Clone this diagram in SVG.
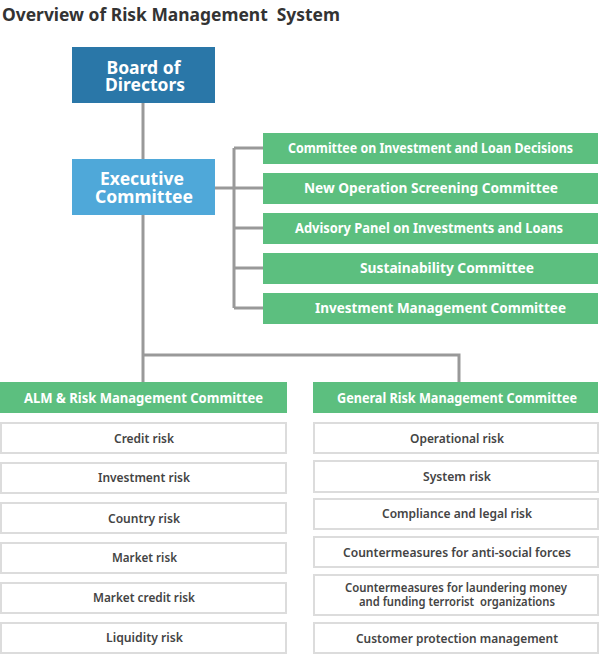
<svg xmlns="http://www.w3.org/2000/svg" width="600" height="654" viewBox="0 0 600 654">
<style>
text{font-family:"Noto Sans","Open Sans","DejaVu Sans",sans-serif;text-anchor:middle}
.title{font-size:18px;font-weight:700;fill:#333;text-anchor:start;white-space:pre}
.top{font-size:17px;font-weight:700;fill:#fff}
.hd{font-size:13.5px;font-weight:700;fill:#fff}
.it{font-size:12.5px;font-weight:600;fill:#444}
.pre{white-space:pre}
.bd{fill:#2a77a8}
.ex{fill:#4fa8d9}
.gr{fill:#5cbf7f}
.bx{fill:#fff;stroke:#dcdcdc;stroke-width:2}
.ln{fill:none;stroke:#999;stroke-width:3}
</style>
<text class="title" x="2" y="21" textLength="338" lengthAdjust="spacingAndGlyphs">Overview of Risk Management  System</text>
<g id="connectors">
<path class="ln" d="M143 102V159M143 215V382M143 355H459V382M215 188H234M234 148V308M234 148H263M234 188H263M234 228H263M234 268H263M234 308H263"/>
</g>
<g id="board"><rect class="bd" x="72" y="47" width="143" height="56"/>
<text class="top" x="143.5" y="74" textLength="74" lengthAdjust="spacingAndGlyphs">Board of</text>
<text class="top" x="145" y="91" textLength="80" lengthAdjust="spacingAndGlyphs">Directors</text></g>
<g id="exec"><rect class="ex" x="72" y="159" width="143" height="56"/>
<text class="top" x="142" y="185" textLength="84" lengthAdjust="spacingAndGlyphs">Executive</text>
<text class="top" x="144" y="203" textLength="98" lengthAdjust="spacingAndGlyphs">Committee</text></g>
<g id="c1"><rect class="gr" x="263" y="133" width="335" height="31"/><text class="hd" x="430.5" y="153" textLength="285" lengthAdjust="spacingAndGlyphs">Committee on Investment and Loan Decisions</text></g>
<g id="c2"><rect class="gr" x="263" y="173" width="335" height="31"/><text class="hd" x="431" y="193" textLength="254" lengthAdjust="spacingAndGlyphs">New Operation Screening Committee</text></g>
<g id="c3"><rect class="gr" x="263" y="213" width="335" height="31"/><text class="hd" x="429" y="233" textLength="268" lengthAdjust="spacingAndGlyphs">Advisory Panel on Investments and Loans</text></g>
<g id="c4"><rect class="gr" x="263" y="253" width="335" height="31"/><text class="hd" x="447" y="273" textLength="174" lengthAdjust="spacingAndGlyphs">Sustainability Committee</text></g>
<g id="c5"><rect class="gr" x="263" y="293" width="335" height="31"/><text class="hd" x="440.5" y="313" textLength="251" lengthAdjust="spacingAndGlyphs">Investment Management Committee</text></g>
<g id="alm"><rect class="gr" x="0" y="382" width="287" height="31"/><text class="hd" x="143.5" y="403" textLength="239" lengthAdjust="spacingAndGlyphs">ALM &amp; Risk Management Committee</text></g>
<g id="grm"><rect class="gr" x="313" y="382" width="285" height="31"/><text class="hd" x="457" y="403" textLength="240" lengthAdjust="spacingAndGlyphs">General Risk Management Committee</text></g>
<g id="l1"><rect class="bx" x="1" y="423" width="285" height="30"/><text class="it" x="144" y="443" textLength="60" lengthAdjust="spacingAndGlyphs">Credit risk</text></g>
<g id="l2"><rect class="bx" x="1" y="463" width="285" height="30"/><text class="it" x="144" y="482" textLength="92" lengthAdjust="spacingAndGlyphs">Investment risk</text></g>
<g id="l3"><rect class="bx" x="1" y="503" width="285" height="30"/><text class="it" x="144" y="523" textLength="72" lengthAdjust="spacingAndGlyphs">Country risk</text></g>
<g id="l4"><rect class="bx" x="1" y="543" width="285" height="30"/><text class="it" x="144.5" y="562" textLength="65" lengthAdjust="spacingAndGlyphs">Market risk</text></g>
<g id="l5"><rect class="bx" x="1" y="583" width="285" height="30"/><text class="it" x="144" y="602" textLength="102" lengthAdjust="spacingAndGlyphs">Market credit risk</text></g>
<g id="l6"><rect class="bx" x="1" y="623" width="285" height="30"/><text class="it" x="144.5" y="642" textLength="77" lengthAdjust="spacingAndGlyphs">Liquidity risk</text></g>
<g id="r1"><rect class="bx" x="314" y="423" width="284" height="30"/><text class="it" x="457" y="443" textLength="94" lengthAdjust="spacingAndGlyphs">Operational risk</text></g>
<g id="r2"><rect class="bx" x="314" y="461" width="284" height="31"/><text class="it" x="457" y="481" textLength="68" lengthAdjust="spacingAndGlyphs">System risk</text></g>
<g id="r3"><rect class="bx" x="314" y="499" width="284" height="30"/><text class="it" x="457" y="518" textLength="150" lengthAdjust="spacingAndGlyphs">Compliance and legal risk</text></g>
<g id="r4"><rect class="bx" x="314" y="537" width="284" height="30"/><text class="it" x="457" y="557" textLength="228" lengthAdjust="spacingAndGlyphs">Countermeasures for anti-social forces</text></g>
<g id="r5"><rect class="bx" x="314" y="575" width="284" height="40"/><text class="it" x="456" y="592" textLength="222" lengthAdjust="spacingAndGlyphs">Countermeasures for laundering money</text><text class="it pre" x="457" y="606" textLength="196" lengthAdjust="spacingAndGlyphs">and funding terrorist  organizations</text></g>
<g id="r6"><rect class="bx" x="314" y="623" width="284" height="30"/><text class="it" x="457" y="643" textLength="202" lengthAdjust="spacingAndGlyphs">Customer protection management</text></g>
</svg>
